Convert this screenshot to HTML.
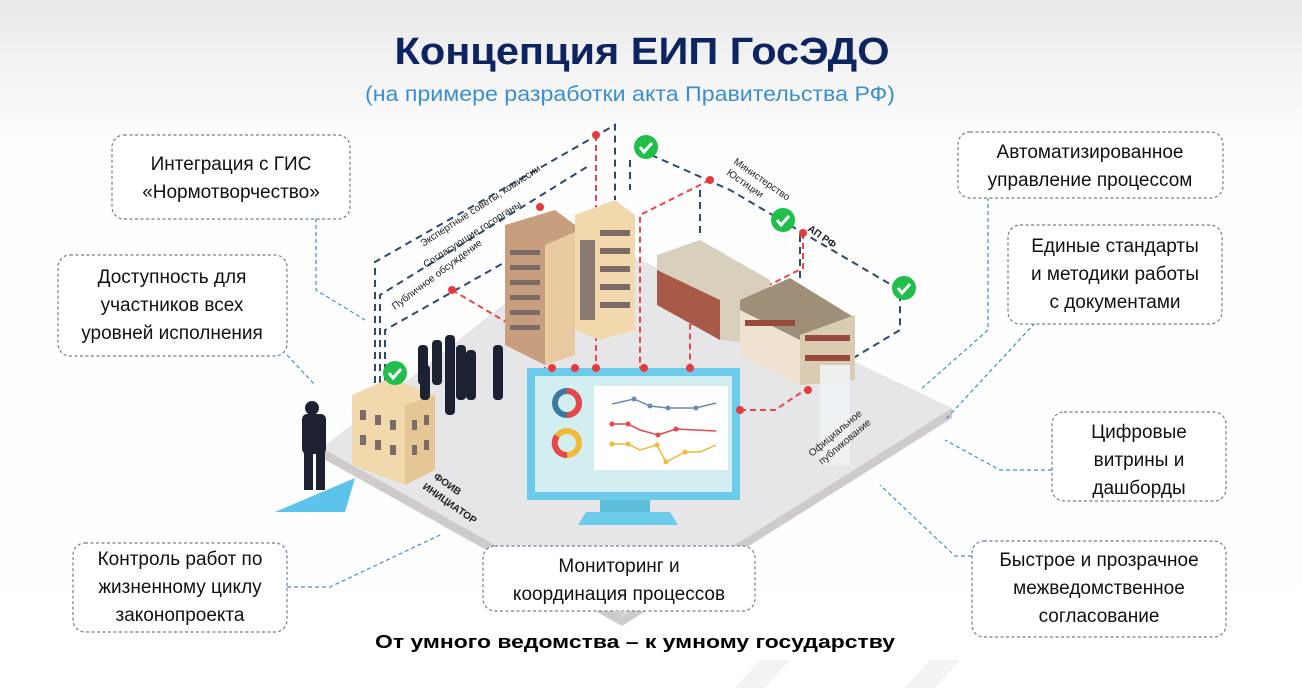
<!DOCTYPE html>
<html><head><meta charset="utf-8"><style>
html,body{margin:0;padding:0;width:1302px;height:688px;overflow:hidden;background:#fff}
svg{display:block;font-family:"Liberation Sans",sans-serif}
</style></head><body>
<svg width="1302" height="688" viewBox="0 0 1302 688" xmlns="http://www.w3.org/2000/svg">
<defs>
<linearGradient id="bg" x1="0" y1="0" x2="0" y2="1"><stop offset="0" stop-color="#e9e9e9"/><stop offset="0.2" stop-color="#fdfdfd"/><stop offset="1" stop-color="#ffffff"/></linearGradient>
</defs>
<rect width="1302" height="688" fill="url(#bg)"/>
<polygon points="735,688 760,660 790,660 765,688" fill="#f3f3f3"/>
<polygon points="905,688 930,660 960,660 935,688" fill="#f3f3f3"/>

<text x="642" y="64" text-anchor="middle" font-size="38" font-weight="bold" fill="#0d2460" textLength="495" lengthAdjust="spacingAndGlyphs">Концепция ЕИП ГосЭДО</text>
<text x="630" y="101" text-anchor="middle" font-size="21" fill="#3b8fd1" textLength="530" lengthAdjust="spacingAndGlyphs">(на примере разработки акта Правительства РФ)</text>

<!-- platform -->
<polygon points="322,448 590,236 952,408 622,616" fill="#e6e6e8"/>
<polygon points="322,448 622,616 622,626 322,458" fill="#cfcbcb"/>
<polygon points="952,408 622,616 622,626 952,418" fill="#cfcbcb"/>

<!-- dashed navy connection lines -->
<g fill="none" stroke="#2e4a6e" stroke-width="2" stroke-dasharray="7,5">
<path d="M375,395 V262 L615,125 V200"/>
<path d="M380,395 V295 L590,165"/>
<path d="M385,395 V330 L530,248"/>
<path d="M640,150 L730,190 L900,290 V330 L850,360"/>
<path d="M630,160 V190"/>
<path d="M700,190 V235"/>
<path d="M800,235 V280"/>
</g>
<!-- red dashed -->
<g fill="none" stroke="#e8474a" stroke-width="2" stroke-dasharray="6,4">
<path d="M596,135 V368"/>
<path d="M452,290 L545,345 V368"/>
<path d="M540,215 L575,240"/>
<path d="M710,180 L640,215 V368"/>
<path d="M803,233 V268 L690,325 V368"/>
<path d="M740,410 H775 L805,390"/>
</g>

<!-- buildings -->
<polygon points="505,225 555,210 575,225 575,355 545,365 505,345" fill="#c79f7e"/>
<polygon points="545,245 575,232 575,355 545,365" fill="#e8c9a0"/>
<g fill="#7d6b66"><rect x="510" y="250" width="30" height="5"/><rect x="510" y="265" width="30" height="5"/><rect x="510" y="280" width="30" height="5"/><rect x="510" y="295" width="30" height="5"/><rect x="510" y="310" width="30" height="5"/><rect x="510" y="325" width="30" height="5"/></g>
<polygon points="575,215 615,200 635,215 635,330 600,340 575,330" fill="#f2d9ad"/>
<g fill="#7d6b66"><rect x="600" y="230" width="30" height="6"/><rect x="600" y="248" width="30" height="6"/><rect x="600" y="266" width="30" height="6"/><rect x="600" y="284" width="30" height="6"/><rect x="600" y="302" width="30" height="6"/><rect x="580" y="240" width="15" height="80" fill="#8a7a74"/></g>
<polygon points="657,255 700,240 770,280 770,345 720,340 657,305" fill="#d9cfbd"/>
<polygon points="657,270 720,300 720,340 657,305" fill="#a85a48"/>
<polygon points="740,300 790,278 855,318 855,380 800,385 740,350" fill="#9f8f78"/>
<polygon points="740,310 800,340 800,385 740,355" fill="#ede3d0"/>
<polygon points="800,335 855,315 855,380 800,385" fill="#d9ccb3"/>
<g fill="#9b4b3e"><rect x="745" y="320" width="50" height="6"/><rect x="805" y="335" width="45" height="6"/><rect x="805" y="355" width="45" height="6"/></g>
<rect x="820" y="365" width="30" height="100" fill="#eef2f4" opacity="0.9"/>
<polygon points="352,395 390,378 435,395 435,470 405,485 352,465" fill="#f2d9ad"/>
<polygon points="405,405 435,395 435,470 405,485" fill="#e5c695"/>
<g fill="#7d6b66"><rect x="360" y="410" width="6" height="10"/><rect x="375" y="415" width="6" height="10"/><rect x="390" y="420" width="6" height="10"/><rect x="360" y="435" width="6" height="10"/><rect x="375" y="440" width="6" height="10"/><rect x="390" y="445" width="6" height="10"/><rect x="412" y="420" width="5" height="10"/><rect x="424" y="415" width="5" height="10"/><rect x="412" y="445" width="5" height="10"/><rect x="424" y="440" width="5" height="10"/></g>

<!-- people -->
<g fill="#1d2233">
<rect x="418" y="345" width="10" height="40" rx="4"/><rect x="432" y="340" width="10" height="45" rx="4"/><rect x="445" y="335" width="10" height="50" rx="4"/><rect x="456" y="345" width="10" height="55" rx="4"/><rect x="466" y="350" width="10" height="50" rx="4"/><rect x="493" y="345" width="10" height="55" rx="4"/><rect x="445" y="365" width="10" height="50" rx="4"/><rect x="420" y="365" width="10" height="35" rx="4"/>
</g>
<polygon points="275,512 355,478 345,512" fill="#5cc3ea"/>
<g fill="#1d2233"><circle cx="312" cy="408" r="7"/><rect x="302" y="414" width="24" height="40" rx="5"/><rect x="304" y="450" width="9" height="40"/><rect x="316" y="450" width="9" height="40"/></g>

<!-- check marks -->
<g>
<circle cx="646" cy="147" r="12" fill="#1fbf4a"/><path d="M640,147 l4,5 l8,-9" stroke="#fff" stroke-width="3" fill="none"/>
<circle cx="783" cy="220" r="12" fill="#1fbf4a"/><path d="M777,220 l4,5 l8,-9" stroke="#fff" stroke-width="3" fill="none"/>
<circle cx="904" cy="288" r="12" fill="#1fbf4a"/><path d="M898,288 l4,5 l8,-9" stroke="#fff" stroke-width="3" fill="none"/>
<circle cx="395" cy="373" r="12" fill="#1fbf4a"/><path d="M389,373 l4,5 l8,-9" stroke="#fff" stroke-width="3" fill="none"/>
</g>
<g fill="#e63a3e"><circle cx="596" cy="135" r="4"/><circle cx="540" cy="207" r="4"/><circle cx="452" cy="290" r="4"/><circle cx="710" cy="180" r="4"/><circle cx="803" cy="233" r="4"/><circle cx="808" cy="390" r="4"/></g>

<!-- rotated labels -->
<g font-size="10" fill="#222">
<text transform="translate(423,247) rotate(-33)">Экспертные советы, комиссии</text>
<text transform="translate(426,268) rotate(-33)">Согласующие госорганы</text>
<text transform="translate(395,310) rotate(-37)">Публичное обсуждение</text>
<text transform="translate(733,163) rotate(35)">Министерство</text>
<text transform="translate(726,174) rotate(35)">Юстиции</text>
<text transform="translate(807,230) rotate(35)" font-weight="bold">АП РФ</text>
<text transform="translate(812,457) rotate(-40)">Официальное</text>
<text transform="translate(822,465) rotate(-40)">публикование</text>
<text transform="translate(433,478) rotate(35)" font-weight="bold">ФОИВ</text>
<text transform="translate(422,488) rotate(35)" font-weight="bold">ИНИЦИАТОР</text>
</g>

<!-- monitor -->
<rect x="527" y="368" width="213" height="132" fill="#6ccbea"/>
<rect x="535" y="376" width="197" height="116" fill="#d3eef0"/>
<rect x="594" y="386" width="134" height="84" fill="#fff"/>
<rect x="600" y="500" width="50" height="13" fill="#5fbfd8"/>
<polygon points="578,525 678,525 670,512 586,512" fill="#6ccbea"/>
<g fill="#e63a3e"><circle cx="552" cy="368" r="4"/><circle cx="575" cy="368" r="4"/><circle cx="596" cy="368" r="4"/><circle cx="644" cy="368" r="4"/><circle cx="690" cy="368" r="4"/><circle cx="740" cy="410" r="4"/></g>
<circle cx="567" cy="403" r="12" fill="none" stroke="#3b7aa0" stroke-width="6"/>
<path d="M567,391 A12,12 0 0 1 567,415" fill="none" stroke="#e8474a" stroke-width="6"/>
<circle cx="567" cy="443" r="12" fill="none" stroke="#f0b93a" stroke-width="6"/>
<path d="M567,455 A12,12 0 0 1 557,436" fill="none" stroke="#e8474a" stroke-width="6"/>
<polyline points="612,404 634,399 650,406 668,408 696,408 716,403" fill="none" stroke="#6b8bb0" stroke-width="1.5"/>
<polyline points="612,424 628,424 640,430 658,435 676,429 716,431" fill="none" stroke="#e8474a" stroke-width="1.5"/>
<polyline points="612,444 628,444 640,450 657,445 666,462 685,452 700,452 716,445" fill="none" stroke="#f0b93a" stroke-width="1.5"/>
<g fill="#6b8bb0"><circle cx="634" cy="399" r="2.5"/><circle cx="650" cy="406" r="2.5"/><circle cx="668" cy="408" r="2.5"/><circle cx="696" cy="408" r="2.5"/></g>
<g fill="#e8474a"><circle cx="612" cy="424" r="2.5"/><circle cx="628" cy="424" r="2.5"/><circle cx="658" cy="435" r="2.5"/><circle cx="676" cy="429" r="2.5"/></g>
<g fill="#f0b93a"><circle cx="612" cy="444" r="2.5"/><circle cx="628" cy="444" r="2.5"/><circle cx="657" cy="445" r="2.5"/><circle cx="666" cy="462" r="2.5"/><circle cx="685" cy="452" r="2.5"/></g>

<!-- leader lines -->
<g fill="none" stroke="#3b8fd1" stroke-width="1.2" stroke-dasharray="4,3">
<path d="M316,218 V290 L365,320"/>
<path d="M287,355 L315,385"/>
<path d="M988,197 V330 L920,390"/>
<path d="M1035,323 L945,420"/>
<path d="M1052,470 H1000 L945,440"/>
<path d="M287,587 H330 L440,535"/>
<path d="M972,556 H955 L880,485"/>
</g>

<!-- boxes -->
<g fill="#fff" stroke="#6f7f93" stroke-width="1.2" stroke-dasharray="3,2.5">
<rect x="112" y="135" width="238" height="84" rx="12"/>
<rect x="58" y="255" width="229" height="101" rx="12"/>
<rect x="958" y="132" width="265" height="66" rx="12"/>
<rect x="1008" y="225" width="214" height="99" rx="12"/>
<rect x="1052" y="412" width="174" height="89" rx="12"/>
<rect x="73" y="543" width="214" height="89" rx="12"/>
<rect x="483" y="546" width="272" height="65" rx="12"/>
<rect x="972" y="541" width="254" height="96" rx="12"/>
</g>
<polygon points="614,611 626,611 620,617" fill="#cfcbcb"/>
<g font-size="19" fill="#111" text-anchor="middle">
<text x="231" y="170">Интеграция с ГИС</text>
<text x="231" y="198">«Нормотворчество»</text>
<text x="172" y="283">Доступность для</text>
<text x="172" y="311">участников всех</text>
<text x="172" y="339">уровней исполнения</text>
<text x="1090" y="158">Автоматизированное</text>
<text x="1090" y="186">управление процессом</text>
<text x="1115" y="252">Единые стандарты</text>
<text x="1115" y="280">и методики работы</text>
<text x="1115" y="308">с документами</text>
<text x="1139" y="438">Цифровые</text>
<text x="1139" y="466">витрины и</text>
<text x="1139" y="494">дашборды</text>
<text x="180" y="565">Контроль работ по</text>
<text x="180" y="593">жизненному циклу</text>
<text x="180" y="621">законопроекта</text>
<text x="619" y="572">Мониторинг и</text>
<text x="619" y="600">координация процессов</text>
<text x="1099" y="566">Быстрое и прозрачное</text>
<text x="1099" y="594">межведомственное</text>
<text x="1099" y="622">согласование</text>
</g>
<text x="635" y="648" text-anchor="middle" font-size="18" font-weight="bold" fill="#000" textLength="520" lengthAdjust="spacingAndGlyphs">От умного ведомства  – к умному государству</text>
</svg>
</body></html>
